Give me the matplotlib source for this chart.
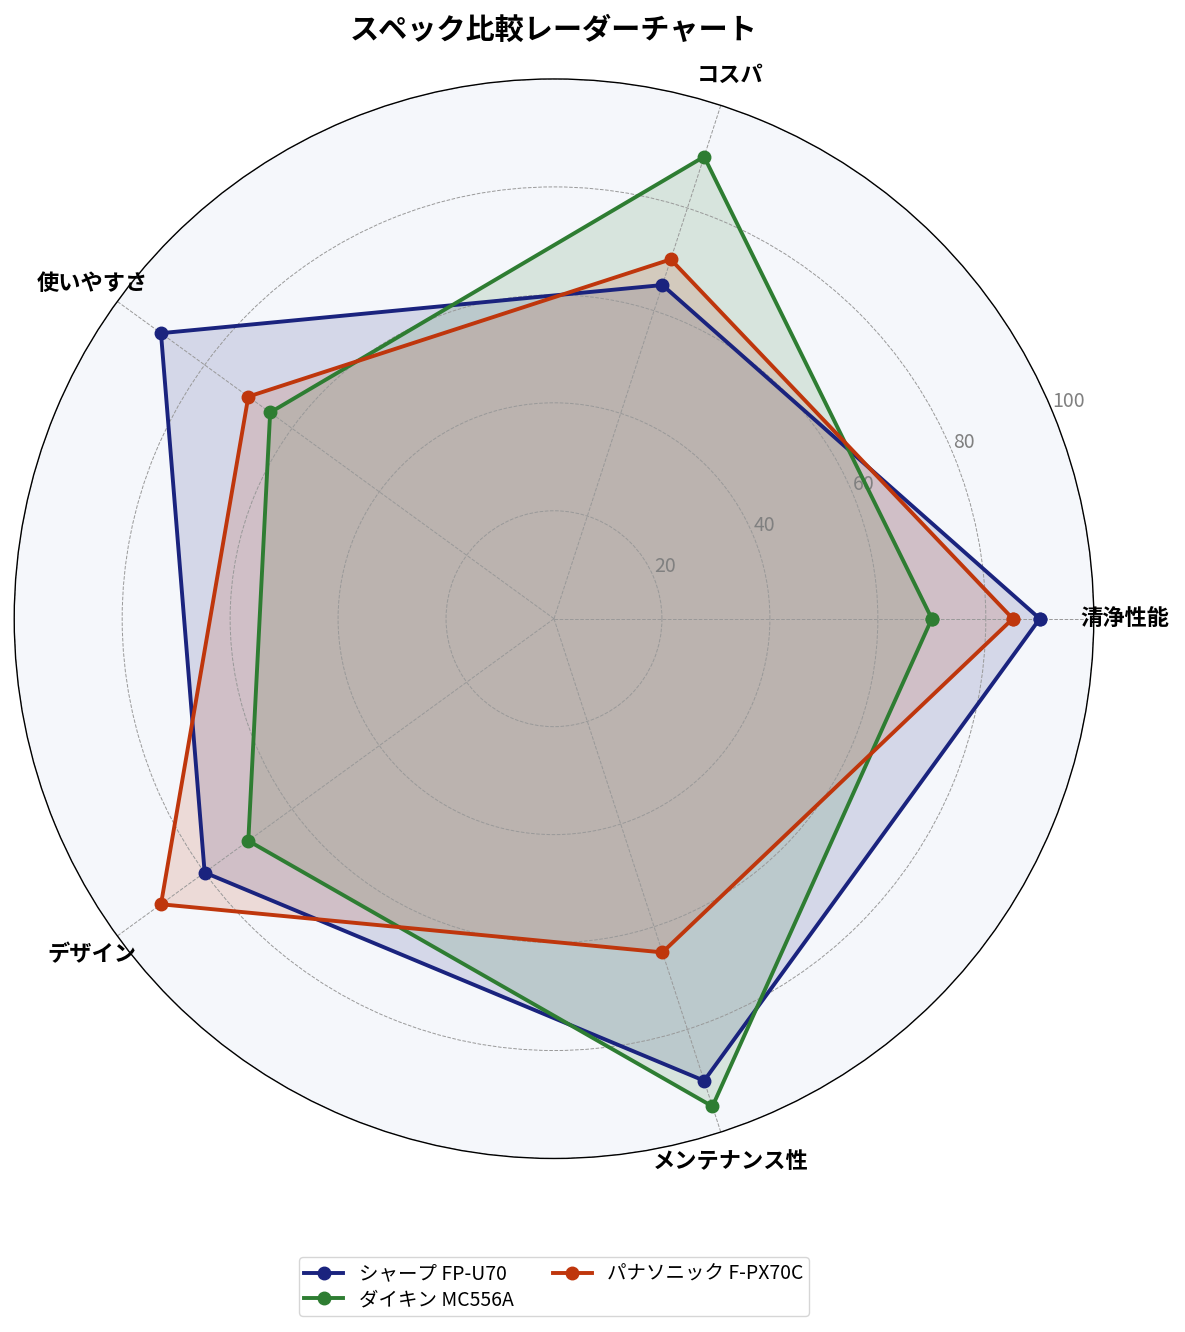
import numpy as np
import matplotlib.pyplot as plt

plt.rcParams['font.family'] = ['Noto Sans CJK JP', 'DejaVu Sans']

categories = ['清浄性能', 'コスパ', '使いやすさ', 'デザイン', 'メンテナンス性']
sharp = [90, 65, 90, 80, 90]
daikin = [70, 90, 65, 70, 95]
panasonic = [85, 70, 70, 90, 65]
series_names = ['シャープ FP-U70', 'ダイキン MC556A', 'パナソニック F-PX70C']
colors = ['#1a237e', '#2e7d32', '#bf360c']
r_ticks = [20, 40, 60, 80, 100]

angles = np.linspace(0, 2 * np.pi, len(categories), endpoint=False).tolist()
angles += angles[:1]

fig = plt.figure(figsize=(11.85, 13.32), dpi=100)
ax = fig.add_axes([0.012, 0.13, 0.911, 0.811], polar=True)
ax.set_facecolor('#f5f7fb')

for name, vals, c in zip(series_names, [sharp, daikin, panasonic], colors):
    v = vals + vals[:1]
    ax.plot(angles, v, color=c, linewidth=2.8, marker='o', markersize=9, label=name)
    ax.fill(angles, v, color=c, alpha=0.15)

ax.set_ylim(0, 100)
ax.set_yticks(r_ticks)
ax.set_yticklabels([str(t) for t in r_ticks], color='#808080', fontsize=14)
ax.set_xticks(angles[:-1])
ax.set_xticklabels(categories, fontsize=16, fontweight='bold')
ax.tick_params(axis='x', pad=12)
ax.grid(color='#999999', linestyle='--', linewidth=0.7)
ax.spines['polar'].set_color('black')
ax.spines['polar'].set_linewidth(1.0)

ax.set_title('スペック比較レーダーチャート', fontsize=21, fontweight='bold', pad=29)
fig.legend(loc='lower center', bbox_to_anchor=(0.4675, 0.012), ncol=2, fontsize=14,
           borderaxespad=0, labelspacing=0.25, borderpad=0.3, frameon=True)

fig.savefig('out.png', dpi=100)
